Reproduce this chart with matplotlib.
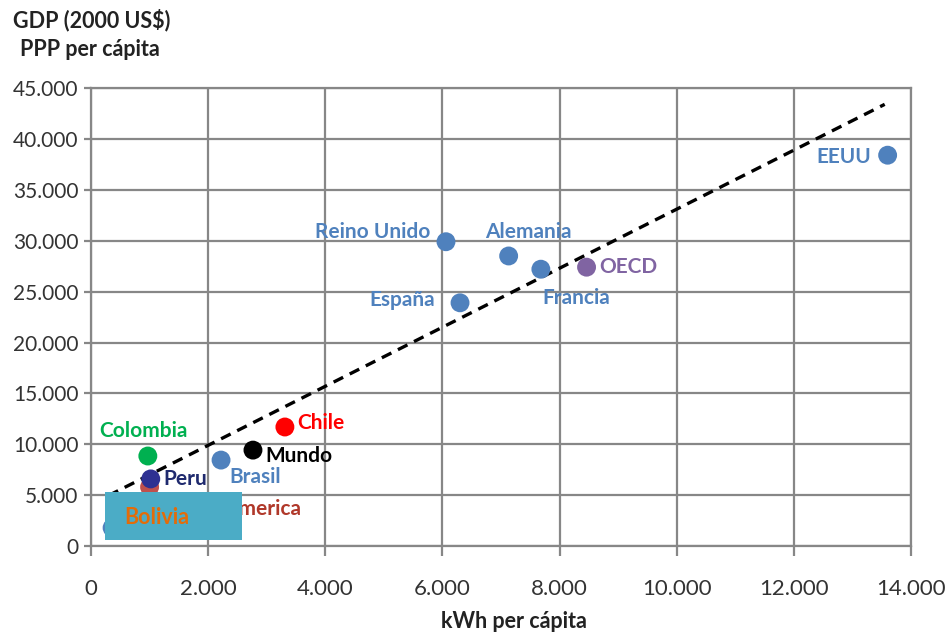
import matplotlib
matplotlib.use("Agg")
import matplotlib.pyplot as plt
from matplotlib.ticker import FuncFormatter, MultipleLocator
from matplotlib.patches import Rectangle

plt.rcParams['font.family'] = ['Lato', 'DejaVu Sans']

# consumo eléctrico (kWh per cápita) y PIB PPP per cápita (US$ 2000)
paises = ['EEUU', 'OECD', 'Francia', 'Alemania', 'Reino Unido', 'España',
          'Chile', 'Mundo', 'Brasil', 'Colombia', 'America', 'Peru', 'Bolivia']
kwh = [13600, 8460, 7680, 7130, 6060, 6300, 3310, 2765, 2220, 970, 1000, 1020, 360]
pib = [38400, 27400, 27200, 28500, 29900, 23900, 11700, 9430, 8450, 8850, 5800, 6600, 1800]
colores = ['#4F81BD', '#8064A2', '#4F81BD', '#4F81BD', '#4F81BD', '#4F81BD',
           '#FF0000', '#000000', '#4F81BD', '#00B050', '#C0504D', '#2E3192', '#4F81BD']
colores_txt = ['#4F81BD', '#8064A2', '#4F81BD', '#4F81BD', '#4F81BD', '#4F81BD',
               '#FF0000', '#000000', '#4F81BD', '#00B050', '#B0382A', '#1F2A6E', '#4F81BD']

# posición de cada etiqueta respecto del punto (puntos tipográficos, alineación)
etiquetas = {
    'EEUU': (-12, -1, 'right'),
    'OECD': (9, 0, 'left'),
    'Francia': (1, -21, 'left'),
    'Alemania': (14, 17, 'center'),
    'Reino Unido': (-11, 7, 'right'),
    'España': (-18, 2, 'right'),
    'Chile': (9, 3, 'left'),
    'Mundo': (9, -4, 'left'),
    'Brasil': (6, -12, 'left'),
    'Colombia': (-3, 18, 'center'),
    'America': (109, -16, 'right'),
    'Peru': (9, 0, 'left'),
}

# recta de tendencia
tend_pendiente = 2.9
tend_origen = 4100
tend_x = [300, 13550]

fig = plt.figure(figsize=(9.53, 6.35), dpi=100)
ax = fig.add_axes([0.0955, 0.140, 0.8605, 0.7214])

gris = '#878787'
ax.set_xlim(0, 14000)
ax.set_ylim(0, 45000)
ax.xaxis.set_major_locator(MultipleLocator(2000))
ax.yaxis.set_major_locator(MultipleLocator(5000))
ax.grid(True, color=gris, lw=1.6)
ax.set_axisbelow(True)
for s in ax.spines.values():
    s.set_color(gris)
    s.set_linewidth(1.6)

fmt = FuncFormatter(lambda v, p: f'{int(v):,}'.replace(',', '.'))
ax.xaxis.set_major_formatter(fmt)
ax.yaxis.set_major_formatter(fmt)
ax.tick_params(axis='both', colors=gris, width=1.6, labelcolor='#333333')
ax.tick_params(axis='y', length=5, pad=4, labelsize=15)
ax.tick_params(axis='x', length=7, pad=17, labelsize=16)

ty = [tend_origen + tend_pendiente * x for x in tend_x]
ax.plot(tend_x, ty, color='black', lw=2.4, linestyle=(0, (3.2, 2.2)), zorder=2)

ax.scatter(kwh, pib, s=185, c=colores, zorder=3, linewidths=0)

for p, x, y, c in zip(paises, kwh, pib, colores_txt):
    if p not in etiquetas:
        continue
    dx, dy, ha = etiquetas[p]
    ax.annotate(p, (x, y), xytext=(dx, dy), textcoords='offset points',
                ha=ha, va='center', color=c, fontsize=15, fontweight='bold', zorder=4)

# recuadro sobre la zona de Bolivia
ax.add_patch(Rectangle((0.0171, 0.0131), 0.167, 0.105, transform=ax.transAxes,
                       facecolor='#4BACC6', edgecolor='none', zorder=5, clip_on=False))
ax.text(0.041, 0.063, 'Bolivia', transform=ax.transAxes, color='#E36C09',
        fontsize=15.5, fontweight='bold', va='center', ha='left', zorder=6)

fig.text(13 / 953, 1 - 20 / 635, 'GDP (2000 US$)', fontsize=15.5, fontweight='bold',
         va='center', ha='left', color='#222222')
fig.text(20 / 953, 1 - 49 / 635, 'PPP per cápita', fontsize=15.5, fontweight='bold',
         va='center', ha='left', color='#222222')
fig.text(514 / 953, 1 - 622 / 635, 'kWh per cápita', fontsize=15.5, fontweight='bold',
         va='center', ha='center', color='#222222')

fig.savefig('out.png', dpi=100)
